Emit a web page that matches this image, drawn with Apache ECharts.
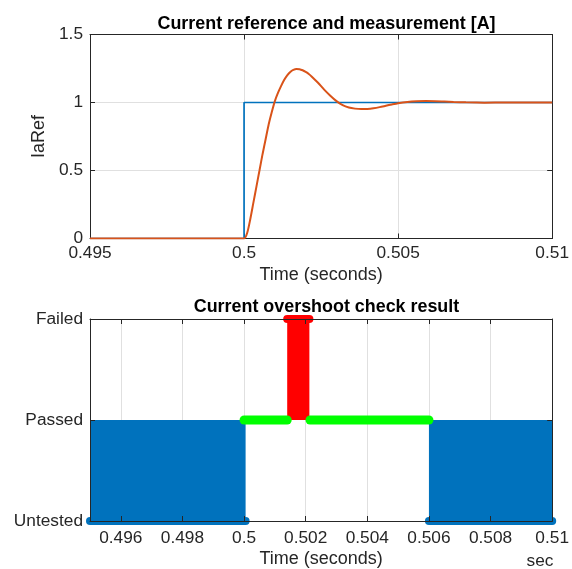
<!DOCTYPE html>
<html>
<head>
<meta charset="utf-8">
<script src="https://cdn.jsdelivr.net/npm/echarts@6/dist/echarts.min.js"></script>
<style>
html,body{margin:0;padding:0;background:#fff;}
#chart{width:572px;height:569px;}
</style>
</head>
<body>
<div id="chart"></div>
<script>
// ---------- Data ----------
const topTitle = 'Current reference and measurement [A]';
const bottomTitle = 'Current overshoot check result';
const xName = 'Time (seconds)';
const yNameTop = 'IaRef';
const secText = 'sec';

// Reference current (step)
const refTime  = [0.495, 0.5, 0.5, 0.51];
const refValue = [0, 0, 1, 1];

// Measured current
const measTime = [0.495, 0.5, 0.5001, 0.5002, 0.5003, 0.5004, 0.5005, 0.5006, 0.5007, 0.5008, 0.5009,
  0.5010, 0.5011, 0.5012, 0.5013, 0.5014, 0.5015, 0.5016, 0.5017, 0.5018, 0.5019, 0.5020, 0.5021,
  0.5022, 0.5024, 0.5026, 0.5028, 0.5030, 0.5032, 0.5034, 0.5036, 0.5038, 0.5040, 0.5042, 0.5044,
  0.5046, 0.5048, 0.5050, 0.5053, 0.5056, 0.5059, 0.5062, 0.5065, 0.5068, 0.5072, 0.5078, 0.5085,
  0.5095, 0.51];
const measValue = [0, 0, 0.04, 0.14, 0.26, 0.38, 0.50, 0.62, 0.73, 0.84, 0.93,
  1.01, 1.07, 1.12, 1.165, 1.20, 1.225, 1.24, 1.247, 1.245, 1.237, 1.225, 1.21,
  1.19, 1.145, 1.095, 1.05, 1.01, 0.98, 0.963, 0.955, 0.952, 0.953, 0.958, 0.966,
  0.976, 0.986, 0.995, 1.004, 1.009, 1.011, 1.010, 1.007, 1.004, 1.001, 0.999, 0.9995,
  1.0, 1.0];

// Top axis ticks
const topXTicks = [0.495, 0.5, 0.505, 0.51];
const topYTicks = [0, 0.5, 1, 1.5];

// Bottom: check status levels
const statusLabels = ['Untested', 'Passed', 'Failed'];
const statusLevels = [0, 1, 2];
const bottomXTicks = [0.496, 0.498, 0.5, 0.502, 0.504, 0.506, 0.508, 0.51];

// Time spans of each status (start, end)
const untestedSpans = [[0.495, 0.50005], [0.506, 0.51]];
const passedSpans   = [[0.5, 0.5014], [0.50214, 0.506]];
const failedSpans   = [[0.5014, 0.50212]];

// ---------- Style ----------
const FONT = '"Liberation Sans", Arial, Helvetica, sans-serif';
const AX = '#262626';
const GRIDC = '#e0e0e0';
const BLUE = '#0072BD';
const ORANGE = '#D95319';
const GREEN = '#00FF00';
const RED = '#FF0000';
const TICK = 17.3;
const NAMEF = 18;
const TITLEF = 17.9;

function fmt(v) { return String(parseFloat(v.toFixed(6))); }

const pairs = (xs, ys) => xs.map((x, i) => [x, ys[i]]);

const G0 = {left: 90, top: 34.5, width: 463, height: 204};
const G1 = {left: 90, top: 319, width: 463, height: 202};

function frameAxis(gridIndex, position, extra) {
  return Object.assign({
    gridIndex, position, type: 'value',
    axisLine: {show: true, onZero: false, lineStyle: {color: AX, width: 1}},
    axisTick: {show: true, inside: true, length: 5, lineStyle: {color: AX, width: 1}},
    axisLabel: {show: false},
    splitLine: {show: false}
  }, extra);
}

const xAxes = [
  // top grid bottom axis (labels, grid)
  {
    gridIndex: 0, position: 'bottom', type: 'value',
    min: topXTicks[0], max: topXTicks[topXTicks.length - 1], interval: 0.005,
    axisLine: {show: true, onZero: false, lineStyle: {color: AX, width: 1}},
    axisTick: {show: true, inside: true, length: 5, lineStyle: {color: AX}},
    axisLabel: {show: true, color: AX, fontSize: TICK, fontFamily: FONT, margin: 6.5,
      formatter: fmt, showMinLabel: true, showMaxLabel: true},
    splitLine: {show: true, lineStyle: {color: GRIDC, width: 1}},
    name: xName, nameLocation: 'middle', nameGap: 27.5,
    nameTextStyle: {color: AX, fontSize: NAMEF, fontFamily: FONT}
  },
  frameAxis(0, 'top', {min: 0.495, max: 0.51, interval: 0.005}),
  // bottom grid: grid-line axis (under series)
  {
    gridIndex: 1, position: 'bottom', type: 'value', min: 0.495, max: 0.51, z: 0,
    axisLine: {show: false},
    axisTick: {show: false, customValues: bottomXTicks},
    axisLabel: {show: false, customValues: bottomXTicks},
    splitLine: {show: true, lineStyle: {color: GRIDC, width: 1}}
  },
  // bottom grid: labelled axis (over series)
  {
    gridIndex: 1, position: 'bottom', type: 'value', min: 0.495, max: 0.51, z: 10,
    axisLine: {show: true, onZero: false, lineStyle: {color: AX, width: 1}},
    axisTick: {show: true, inside: true, length: 5, lineStyle: {color: AX}, customValues: bottomXTicks},
    axisLabel: {show: true, color: AX, fontSize: TICK, fontFamily: FONT, margin: 8.5,
      formatter: fmt, customValues: bottomXTicks},
    splitLine: {show: false},
    name: xName, nameLocation: 'middle', nameGap: 29,
    nameTextStyle: {color: AX, fontSize: NAMEF, fontFamily: FONT}
  },
  Object.assign(frameAxis(1, 'top', {min: 0.495, max: 0.51, z: 10}),
    {axisTick: {show: true, inside: true, length: 5, lineStyle: {color: AX}, customValues: bottomXTicks},
     axisLabel: {show: false, customValues: bottomXTicks}})
];

const yAxes = [
  {
    gridIndex: 0, position: 'left', type: 'value',
    min: topYTicks[0], max: topYTicks[topYTicks.length - 1], interval: 0.5,
    axisLine: {show: true, onZero: false, lineStyle: {color: AX, width: 1}},
    axisTick: {show: true, inside: true, length: 5, lineStyle: {color: AX}},
    axisLabel: {show: true, color: AX, fontSize: TICK, fontFamily: FONT, margin: 7, formatter: fmt},
    splitLine: {show: true, lineStyle: {color: GRIDC, width: 1}},
    name: yNameTop, nameLocation: 'middle', nameGap: 41, nameRotate: 90,
    nameTextStyle: {color: AX, fontSize: NAMEF, fontFamily: FONT}
  },
  frameAxis(0, 'right', {min: 0, max: 1.5, interval: 0.5}),
  {
    gridIndex: 1, position: 'left', type: 'value', min: 0, max: 2, interval: 1, z: 10,
    axisLine: {show: true, onZero: false, lineStyle: {color: AX, width: 1}},
    axisTick: {show: true, inside: true, length: 5, lineStyle: {color: AX}},
    axisLabel: {show: true, color: AX, fontSize: TICK, fontFamily: FONT, margin: 7,
      formatter: v => statusLabels[statusLevels.indexOf(Math.round(v))] || ''},
    splitLine: {show: false}
  },
  frameAxis(1, 'right', {min: 0, max: 2, interval: 1, z: 10})
];

const series = [
  {
    type: 'line', xAxisIndex: 0, yAxisIndex: 0, data: pairs(refTime, refValue),
    showSymbol: false, symbol: 'none', lineStyle: {color: BLUE, width: 1.7}, z: 3, animation: false
  },
  {
    type: 'line', xAxisIndex: 0, yAxisIndex: 0, data: pairs(measTime, measValue),
    showSymbol: false, symbol: 'none', smooth: 0.25, lineStyle: {color: ORANGE, width: 2}, z: 4, animation: false
  }
];

// Untested: blue blocks (Untested..Passed band) + thick baseline
untestedSpans.forEach(s => {
  series.push({
    type: 'line', xAxisIndex: 2, yAxisIndex: 2,
    data: [[s[0], statusLevels[0]], [s[1], statusLevels[0]]],
    symbol: 'none', lineStyle: {color: BLUE, width: 8, cap: 'round'}, z: 3, animation: false,
    markArea: {silent: true, itemStyle: {color: BLUE, opacity: 1},
      data: [[{coord: [s[0], statusLevels[0]]}, {coord: [s[1], statusLevels[1]]}]]}
  });
});
// Passed: green thick line
passedSpans.forEach(s => {
  series.push({
    type: 'line', xAxisIndex: 2, yAxisIndex: 2,
    data: [[s[0], statusLevels[1]], [s[1], statusLevels[1]]],
    symbol: 'none', lineStyle: {color: GREEN, width: 9, cap: 'round'}, z: 4, animation: false
  });
});
// Failed: red band + cap line
failedSpans.forEach(s => {
  series.push({
    type: 'line', xAxisIndex: 2, yAxisIndex: 2,
    data: [[s[0], statusLevels[2]], [s[1], statusLevels[2]]],
    symbol: 'none', lineStyle: {color: RED, width: 8, cap: 'round'}, z: 5, animation: false,
    markArea: {silent: true, itemStyle: {color: RED, opacity: 1},
      data: [[{coord: [s[0], statusLevels[1]]}, {coord: [s[1], statusLevels[2]]}]]}
  });
});

const chart = echarts.init(document.getElementById('chart'), null, {renderer: 'canvas'});
chart.setOption({
  animation: false,
  backgroundColor: '#fff',
  title: [
    {text: topTitle, left: G0.left + G0.width / 2, top: 10.5, textAlign: 'center',
      textStyle: {fontFamily: FONT, fontSize: TITLEF, fontWeight: 'bold', color: '#000'}},
    {text: bottomTitle, left: G1.left + G1.width / 2, top: 293, textAlign: 'center',
      textStyle: {fontFamily: FONT, fontSize: TITLEF, fontWeight: 'bold', color: '#000'}}
  ],
  grid: [
    Object.assign({containLabel: false}, G0),
    Object.assign({containLabel: false}, G1)
  ],
  xAxis: xAxes,
  yAxis: yAxes,
  series: series,
  graphic: [{
    type: 'text', x: 540, y: 561, z: 100,
    style: {text: secText, fill: AX, font: TICK + 'px ' + FONT, textAlign: 'center', textVerticalAlign: 'middle'}
  }]
});
</script>
</body>
</html>
